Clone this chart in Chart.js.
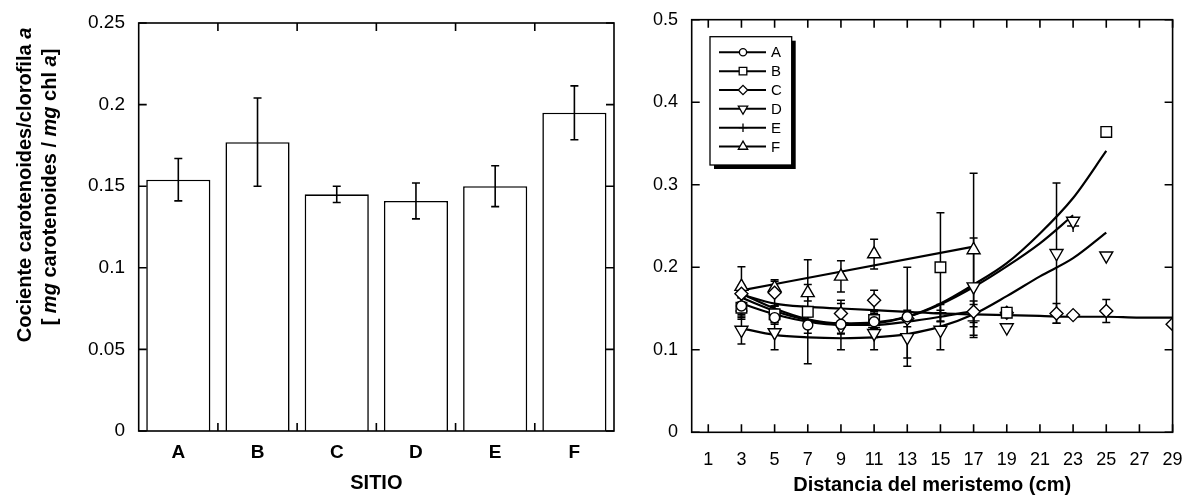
<!DOCTYPE html>
<html><head><meta charset="utf-8">
<script src="https://cdn.jsdelivr.net/npm/chart.js@4.4.1/dist/chart.umd.min.js"></script>
<style>
html,body{margin:0;padding:0;background:#fff;}
#wrap{position:relative;width:1189px;height:497px;overflow:hidden;background:#fff;}
#c1{position:absolute;left:0;top:0;}
#c2{position:absolute;left:630px;top:0;}
</style></head><body>
<div id="wrap"><canvas id="c1" width="630" height="497"></canvas><canvas id="c2" width="559" height="497"></canvas></div>
<script>
// ---------- LEFT CHART DATA ----------
const sites = ['A', 'B', 'C', 'D', 'E', 'F'];
const ratioMean = [0.154, 0.177, 0.145, 0.141, 0.150, 0.195];
const ratioErr = [0.013, 0.027, 0.005, 0.011, 0.0125, 0.0165];
const leftYTicks = [0, 0.05, 0.1, 0.15, 0.2, 0.25];
const leftYLabels = ['0', '0.05', '0.1', '0.15', '0.2', '0.25'];
const leftXTitle = 'SITIO';
const leftYTitle1 = [['Cociente carotenoides/clorofila ', false], ['a', true]];
const leftYTitle2 = [['[ ', false], ['mg', true], [' carotenoides / ', false], ['mg', true], [' chl ', false], ['a', true], [']', false]];

// ---------- RIGHT CHART DATA ----------
const distTicks = [1, 3, 5, 7, 9, 11, 13, 15, 17, 19, 21, 23, 25, 27, 29];
const rightYTicks = [0, 0.1, 0.2, 0.3, 0.4, 0.5];
const rightYLabels = ['0', '0.1', '0.2', '0.3', '0.4', '0.5'];
const rightXTitle = 'Distancia del meristemo (cm)';
const seriesNames = ['A', 'B', 'C', 'D', 'E', 'F'];

// measured points (x = cm, y = ratio, e = error)
const xA = [3, 5, 7, 9, 11, 13];
const yA = [0.153, 0.139, 0.130, 0.131, 0.134, 0.140];
const eA = [0.010, 0.008, 0.010, 0.012, 0.010, 0.060];

const xB = [3, 5, 7, 11, 15, 19, 25];
const yB = [0.151, 0.143, 0.146, 0.136, 0.200, 0.145, 0.364];
const eB = [0.012, 0.010, 0.063, 0.010, 0.066, 0.004, 0];

const xC = [3, 5, 9, 11, 13, 17, 19, 22, 23, 25, 29];
const yC = [0.168, 0.169, 0.144, 0.160, 0.138, 0.146, 0.145, 0.144, 0.142, 0.147, 0.131];
const eC = [0.010, 0.016, 0.016, 0.012, 0.010, 0.013, 0.004, 0.012, 0, 0.014, 0];

const xD = [3, 5, 9, 11, 13, 15, 17, 19, 22, 23, 25];
const yD = [0.124, 0.121, 0.128, 0.120, 0.115, 0.124, 0.1765, 0.127, 0.217, 0.256, 0.214];
const eD = [0.017, 0.021, 0.028, 0.020, 0.025, 0.024, 0.059, 0, 0.085, 0, 0];

const xE = [3, 5, 9, 11, 15, 17, 23];
const yE = [0.147, 0.143, 0.132, 0.127, 0.145, 0.135, 0.250];
const eE = [0.010, 0.010, 0.012, 0.012, 0.010, 0.020, 0];

const xF = [3, 5, 7, 9, 11, 17];
const yF = [0.1765, 0.175, 0.169, 0.189, 0.216, 0.221];
const eF = [0.024, 0.008, 0.010, 0.019, 0.018, 0.093];

// fitted curves
const fitXA = [3, 5, 7, 9, 11, 13, 15, 17];
const fitYA = [0.156, 0.143, 0.134, 0.130, 0.130, 0.134, 0.140, 0.147];
const fitXB = [3, 5, 7, 9, 11, 13, 15, 17, 19, 21, 23, 25];
const fitYB = [0.163, 0.147, 0.136, 0.131, 0.132, 0.140, 0.156, 0.179, 0.205, 0.241, 0.284, 0.341];
const fitXC = [3, 5, 7, 9, 11, 13, 15, 17, 19, 21, 23, 25, 27, 29];
const fitYC = [0.167, 0.156, 0.152, 0.150, 0.148, 0.146, 0.144, 0.143, 0.142, 0.141, 0.140, 0.140, 0.139, 0.139];
const fitXD = [3, 5, 7, 9, 11, 13, 15, 17, 19, 21, 23, 25];
const fitYD = [0.126, 0.118, 0.115, 0.114, 0.115, 0.119, 0.128, 0.143, 0.165, 0.189, 0.211, 0.242];
const fitXE = [3, 5, 7, 9, 11, 13, 15, 17, 19, 21, 23];
const fitYE = [0.168, 0.150, 0.137, 0.132, 0.133, 0.140, 0.155, 0.176, 0.201, 0.229, 0.263];
const fitXF = [3, 17];
const fitYF = [0.172, 0.225];

// ---------- STYLES ----------
const FF = "'Liberation Sans', Arial, Helvetica, sans-serif";
const markerStyles = ['circle', 'rect', 'rectRot', 'triangle', 'cross', 'triangle'];
const markerRot = [0, 0, 0, 180, 0, 0];
const markerRad = [5, 7.5, 6.5, 7.5, 6, 7.5];

const pts = (xs, ys) => xs.map((x, i) => ({x: x, y: ys[i]}));

// frame + inward ticks
const framePlugin = {
  id: 'frame',
  afterDraw(chart, args, o) {
    const {ctx, chartArea: a} = chart;
    const xs = o.xPix(chart);
    const ys = chart.scales.y.ticks.map(t => chart.scales.y.getPixelForValue(t.value));
    const L = 8;
    ctx.save();
    ctx.strokeStyle = '#000';
    ctx.lineWidth = 1.6;
    ctx.strokeRect(a.left, a.top, a.right - a.left, a.bottom - a.top);
    ctx.beginPath();
    xs.forEach(px => {
      ctx.moveTo(px, a.bottom); ctx.lineTo(px, a.bottom - L);
      ctx.moveTo(px, a.top); ctx.lineTo(px, a.top + L);
    });
    ys.forEach(py => {
      ctx.moveTo(a.left, py); ctx.lineTo(a.left + L, py);
      ctx.moveTo(a.right, py); ctx.lineTo(a.right - L, py);
    });
    ctx.stroke();
    ctx.restore();
  }
};

function drawErrors(chart, o) {
  const ctx = chart.ctx;
  const yS = chart.scales.y;
  ctx.save();
  ctx.strokeStyle = '#000';
  ctx.lineWidth = o.lw || 1.5;
  chart.data.datasets.forEach((ds, i) => {
    if (!ds.errors) return;
    const meta = chart.getDatasetMeta(i);
    meta.data.forEach((el, j) => {
      const e = ds.errors[j];
      if (!e) return;
      const raw = ds.data[j];
      const v = (typeof raw === 'object') ? raw.y : raw;
      const t = yS.getPixelForValue(v + e), b = yS.getPixelForValue(v - e);
      const x = el.x, c = o.cap || 4;
      ctx.beginPath();
      ctx.moveTo(x, t); ctx.lineTo(x, b);
      ctx.moveTo(x - c, t); ctx.lineTo(x + c, t);
      ctx.moveTo(x - c, b); ctx.lineTo(x + c, b);
      ctx.stroke();
    });
  });
  ctx.restore();
}
const errPlugin = {
  id: 'errbars',
  beforeDatasetsDraw(chart, args, o) { if (o.under) drawErrors(chart, o); },
  afterDatasetsDraw(chart, args, o) { if (!o.under) drawErrors(chart, o); }
};

const yTitlePlugin = {
  id: 'ytitle',
  afterDraw(chart, args, o) {
    if (!o.lines) return;
    const ctx = chart.ctx;
    o.lines.forEach(line => {
      ctx.save();
      ctx.translate(line.x, line.y);
      ctx.rotate(-Math.PI / 2);
      ctx.fillStyle = '#000';
      ctx.textBaseline = 'middle';
      ctx.textAlign = 'left';
      let total = 0;
      const parts = line.parts.map(p => {
        ctx.font = (p[1] ? 'italic ' : '') + 'bold 20px ' + FF;
        const w = ctx.measureText(p[0]).width;
        total += w;
        return {t: p[0], it: p[1], w: w};
      });
      let x = -total / 2;
      parts.forEach(p => {
        ctx.font = (p.it ? 'italic ' : '') + 'bold 20px ' + FF;
        ctx.fillText(p.t, x, 0);
        x += p.w;
      });
      ctx.restore();
    });
  }
};

const legendPlugin = {
  id: 'boxlegend',
  afterDraw(chart, args, o) {
    if (!o.show) return;
    const ctx = chart.ctx;
    const {x, y, w, h, rowY0, rowGap} = o;
    ctx.save();
    ctx.fillStyle = '#000';
    ctx.fillRect(x + 4, y + 4, w, h);
    ctx.fillStyle = '#fff';
    ctx.fillRect(x, y, w, h);
    ctx.strokeStyle = '#000';
    ctx.lineWidth = 1.3;
    ctx.strokeRect(x, y, w, h);
    seriesNames.forEach((name, i) => {
      const ry = rowY0 + i * rowGap;
      ctx.beginPath();
      ctx.lineWidth = 2;
      ctx.strokeStyle = '#000';
      ctx.moveTo(x + 9, ry); ctx.lineTo(x + 56, ry);
      ctx.stroke();
      ctx.fillStyle = '#fff';
      ctx.lineWidth = 1.3;
      Chart.helpers.drawPoint(ctx, {pointStyle: markerStyles[i], radius: markerRad[i] * 0.72, rotation: markerRot[i], borderWidth: 1.3}, x + 33, ry);
      ctx.fillStyle = '#000';
      ctx.font = '15px ' + FF;
      ctx.textBaseline = 'middle';
      ctx.textAlign = 'left';
      ctx.fillText(name, x + 61, ry + 1);
    });
    ctx.restore();
  }
};

Chart.register(framePlugin, errPlugin, yTitlePlugin, legendPlugin);
Chart.defaults.font.family = FF;
Chart.defaults.color = '#000';

const fixX = h => (s => { s.height = h; s.paddingLeft = 0; s.paddingRight = 0; });
const fixY = w => (s => { s.width = w; s.paddingTop = 0; s.paddingBottom = 0; });

// ---------- LEFT CHART ----------
new Chart(document.getElementById('c1'), {
  type: 'bar',
  data: {
    labels: sites,
    datasets: [{
      data: ratioMean,
      errors: ratioErr,
      backgroundColor: '#fff',
      borderColor: '#000',
      borderWidth: 1.6,
      barPercentage: 0.81,
      categoryPercentage: 1.0
    }]
  },
  options: {
    responsive: false,
    animation: false,
    devicePixelRatio: 1,
    layout: {padding: {left: 0, top: 23, right: 16, bottom: 0}},
    plugins: {
      legend: {display: false},
      tooltip: {enabled: false},
      errbars: {under: false, cap: 4, lw: 1.6},
      frame: {xPix: (ch) => {
        const xs = ch.scales.x; const r = [];
        for (let i = 0; i < sites.length - 1; i++) r.push((xs.getPixelForValue(i) + xs.getPixelForValue(i + 1)) / 2);
        return r;
      }},
      ytitle: {lines: [
        {x: 25, y: 185, parts: leftYTitle1},
        {x: 50, y: 187, parts: leftYTitle2}
      ]},
      boxlegend: {show: false}
    },
    scales: {
      x: {
        grid: {display: false, drawTicks: false},
        border: {display: false},
        ticks: {font: {size: 19, weight: 'bold'}, padding: 10, color: '#000'},
        title: {display: true, text: leftXTitle, font: {size: 20, weight: 'bold'}, padding: {top: 0, bottom: 1.7}, color: '#000'},
        afterFit: fixX(66)
      },
      y: {
        min: 0, max: 0.25,
        grid: {display: false, drawTicks: false},
        border: {display: false},
        afterBuildTicks: s => { s.ticks = leftYTicks.map(v => ({value: v})); },
        ticks: {font: {size: 19}, padding: 13.7, color: '#000',
          callback: (v, i) => leftYLabels[leftYTicks.indexOf(v)]},
        afterFit: fixY(138.7)
      }
    }
  }
});

// ---------- RIGHT CHART ----------
const markerSets = [[xA, yA, eA], [xB, yB, eB], [xC, yC, eC], [xD, yD, eD], [xE, yE, eE], [xF, yF, eF]];
const fitSets = [[fitXA, fitYA], [fitXB, fitYB], [fitXC, fitYC], [fitXD, fitYD], [fitXE, fitYE], [fitXF, fitYF]];
const rightDatasets = [];
fitSets.forEach((f, i) => {
  rightDatasets.push({
    type: 'line', label: 'fit ' + seriesNames[i], data: pts(f[0], f[1]),
    showLine: true, borderColor: '#000', borderWidth: 2.2, pointRadius: 0,
    tension: 0.4, cubicInterpolationMode: 'monotone', fill: false, order: 2
  });
});
markerSets.forEach((m, i) => {
  rightDatasets.push({
    type: 'scatter', label: seriesNames[i], data: pts(m[0], m[1]), errors: m[2],
    showLine: false, pointStyle: markerStyles[i], pointRadius: markerRad[i], pointRotation: markerRot[i],
    pointBackgroundColor: '#fff', pointBorderColor: '#000', pointBorderWidth: 1.4, order: 1
  });
});

new Chart(document.getElementById('c2'), {
  type: 'scatter',
  data: {datasets: rightDatasets},
  options: {
    responsive: false,
    animation: false,
    devicePixelRatio: 1,
    layout: {padding: {left: 0, top: 19.7, right: 16.4, bottom: 0}},
    plugins: {
      legend: {display: false},
      tooltip: {enabled: false},
      errbars: {under: true, cap: 4, lw: 1.5},
      frame: {xPix: (ch) => ch.scales.x.ticks.map(t => ch.scales.x.getPixelForValue(t.value))},
      ytitle: {},
      boxlegend: {show: true, x: 80, y: 36.7, w: 81.7, h: 128.3, rowY0: 52.3, rowGap: 18.85}
    },
    scales: {
      x: {
        type: 'linear', min: 0, max: 29,
        grid: {display: false, drawTicks: false},
        border: {display: false},
        afterBuildTicks: s => { s.ticks = distTicks.map(v => ({value: v})); },
        ticks: {font: {size: 18}, padding: 17, color: '#000', callback: v => String(v)},
        title: {display: true, text: rightXTitle, font: {size: 20, weight: 'bold'}, padding: {top: 0, bottom: 0}, color: '#000'},
        afterFit: fixX(64.7)
      },
      y: {
        type: 'linear', min: 0, max: 0.5,
        grid: {display: false, drawTicks: false},
        border: {display: false},
        afterBuildTicks: s => { s.ticks = rightYTicks.map(v => ({value: v})); },
        ticks: {font: {size: 18}, padding: 13.7, color: '#000',
          callback: v => rightYLabels[rightYTicks.indexOf(v)]},
        afterFit: fixY(61.7)
      }
    }
  }
});
</script>
</body></html>
